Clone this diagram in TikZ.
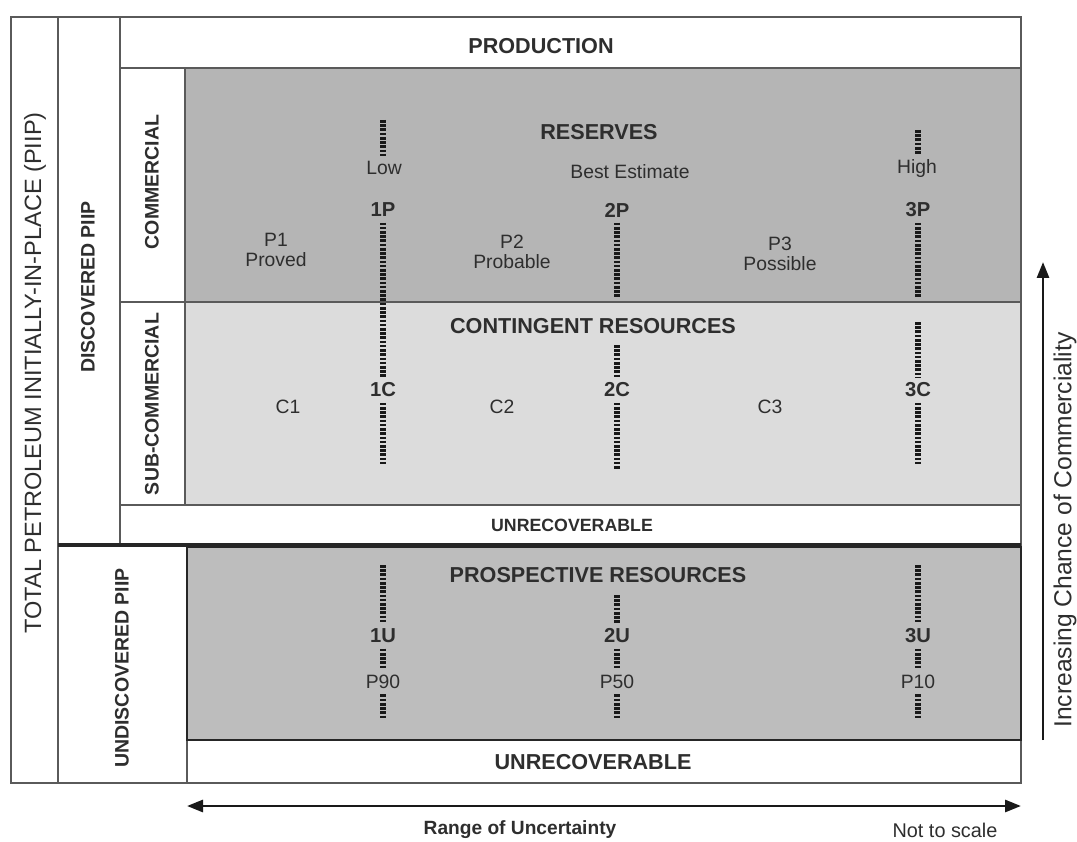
\documentclass[tikz,border=0pt]{standalone}
\usepackage{fontspec}
\setmainfont{Liberation Sans}
\usepackage{xcolor}
\usetikzlibrary{arrows.meta}
\definecolor{resfill}{HTML}{B5B5B5}
\definecolor{confill}{HTML}{DCDCDC}
\definecolor{prosfill}{HTML}{BDBDBD}
\definecolor{inkgray}{HTML}{2E2E2E}
\definecolor{rulegray}{HTML}{5A5A5A}
\tikzset{
  hhead/.style={font=\fontsize{12.3}{14}\selectfont\bfseries,text=inkgray,inner sep=2pt},
  hsmall/.style={font=\fontsize{10.1}{12}\selectfont\bfseries,text=inkgray,inner sep=2pt},
  vhead/.style={font=\fontsize{11.1}{13}\selectfont\bfseries,text=inkgray,rotate=90,inner sep=2pt},
  vbig/.style={font=\fontsize{13.4}{15}\selectfont,text=inkgray,rotate=90,inner sep=2pt},
  tlab/.style={font=\fontsize{11}{11.5}\selectfont,text=inkgray,align=center,inner sep=3pt},
  klab/.style={font=\fontsize{11.5}{13}\selectfont\bfseries,text=inkgray,inner sep=3pt},
  udash/.style={line width=3pt,dash pattern=on 1.5pt off 0.9pt,draw=black!90},
  fline/.style={draw=rulegray,line width=0.9pt},
  fthick/.style={draw=black!85,line width=1.8pt},
  axarr/.style={-{Triangle[length=3.2mm,width=2.4mm]},line width=1.6pt,draw=black!90}
}

\begin{document}
\begin{tikzpicture}[x=0.02cm,y=-0.02cm]
  \useasboundingbox (0,0) rectangle (1077,841);
  \fill[resfill] (185,68) rectangle (1021,302);
  \fill[confill] (185,302) rectangle (1021,505);
  \fill[prosfill] (187,547) rectangle (1021,740);
  \draw[fline] (11,17) rectangle (1021,783);
  \draw[fline] (58,17) -- (58,783);
  \draw[fline] (120,17) -- (120,545);
  \draw[fline] (120,68) -- (1021,68);
  \draw[fline] (185,68) -- (185,505);
  \draw[fline] (120,302) -- (1021,302);
  \draw[fline] (120,505) -- (1021,505);
  \draw[fline] (187,545) -- (187,783);
  \draw[fthick] (58,545) -- (1021,545);
  \draw[draw=black!85,line width=1.3pt] (187,547) rectangle (1021,740);

  \node[vbig] (piip) at (35,373) {TOTAL PETROLEUM INITIALLY-IN-PLACE (PIIP)};
  \node[vhead] (disc) at (88,287) {DISCOVERED PIIP};
  \node[vhead] (undisc) at (122,668) {UNDISCOVERED PIIP};
  \node[vhead] (comm) at (152,182) {COMMERCIAL};
  \node[vhead] (subcomm) at (152,404) {SUB-COMMERCIAL};

  \node[hhead] (prod) at (541,46) {PRODUCTION};
  \node[hhead] (res) at (599,132) {RESERVES};
  \node[hhead] (cont) at (593,326) {CONTINGENT RESOURCES};
  \node[hsmall] (unrec1) at (572,525) {UNRECOVERABLE};
  \node[hhead] (pros) at (598,575) {PROSPECTIVE RESOURCES};
  \node[hhead] (unrec2) at (593,762) {UNRECOVERABLE};

  \node[tlab] (low) at (384,168) {Low};
  \node[tlab] (best) at (630,172) {Best Estimate};
  \node[tlab] (high) at (917,169) {High};
  \node[tlab] (cp1) at (276,250) {P1\\Proved};
  \node[tlab] (cp2) at (512,252) {P2\\Probable};
  \node[tlab] (cp3) at (780,254) {P3\\Possible};
  \node[tlab] (cc1) at (288,407) {C1};
  \node[tlab] (cc2) at (502,407) {C2};
  \node[tlab] (cc3) at (770,407) {C3};

  \foreach \x/\k/\pp in {383/1/90,617/2/50,918/3/10}{
    \node[klab] (p\k) at (\x,210) {\k P};
    \node[klab] (c\k) at (\x,390) {\k C};
    \node[klab] (u\k) at (\x,636) {\k U};
    \node[tlab] (pp\k) at (\x,682) {P\pp};
    \draw[udash] (u\k.south) -- (pp\k.north);
    \draw[udash] (pp\k.south) -- (\x,718);
  }
  \draw[udash] (383,565) -- (u1.north);
  \draw[udash] (617,595) -- (u2.north);
  \draw[udash] (918,565) -- (u3.north);

  \draw[udash] (383,120) -- (383,120 |- low.north);
  \draw[udash] (p1.south) -- (c1.north);
  \draw[udash] (c1.south) -- (383,465);
  \draw[udash] (p2.south) -- (617,297);
  \draw[udash] (617,345) -- (c2.north);
  \draw[udash] (c2.south) -- (617,470);
  \draw[udash] (918,130) -- (918,130 |- high.north);
  \draw[udash] (p3.south) -- (918,297);
  \draw[udash] (918,322) -- (c3.north);
  \draw[udash] (c3.south) -- (918,465);

  \coordinate (cbot) at (1043,740);
  \coordinate (ctop) at (1043,262);
  \draw[axarr] (cbot) -- (ctop);
  \node[font=\fontsize{14}{16}\selectfont,text=inkgray,rotate=90,inner sep=1pt] (chance) at (1065,530) {Increasing Chance of Commerciality};

  \coordinate (uleft) at (187,806);
  \coordinate (uright) at (1021,806);
  \draw[axarr,{Triangle[length=3.2mm,width=2.4mm]}-{Triangle[length=3.2mm,width=2.4mm]}] (uleft) -- (uright);
  \node[font=\fontsize{10.9}{12}\selectfont\bfseries,text=inkgray] (range) at (520,830) {Range of Uncertainty};
  \node[font=\fontsize{11.3}{12}\selectfont,text=inkgray] (noscale) at (945,830) {Not to scale};
\end{tikzpicture}
\end{document}
